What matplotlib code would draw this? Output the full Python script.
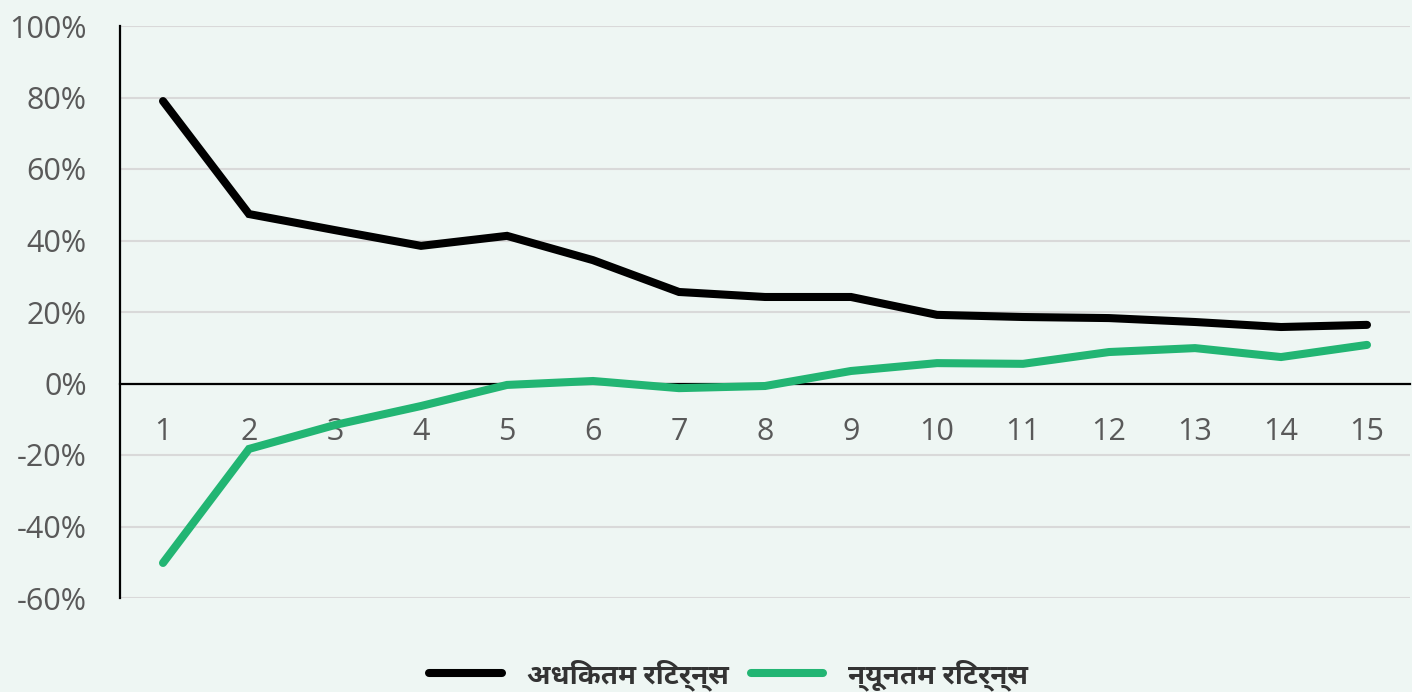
import matplotlib
matplotlib.use('Agg')
import matplotlib.pyplot as plt
from matplotlib.ticker import FuncFormatter

# holding period (years) and max / min returns in percent
years = list(range(1, 16))
max_returns = [79.0, 47.4, 42.9, 38.5, 41.3, 34.5, 25.6, 24.2, 24.2, 19.2, 18.6, 18.3, 17.2, 15.8, 16.4]
min_returns = [-50.2, -18.3, -11.6, -6.3, -0.4, 0.7, -1.3, -0.7, 3.5, 5.7, 5.5, 8.8, 9.9, 7.4, 10.8]
labels = ['अधिकतम रिटर्न्स', 'न्यूनतम रिटर्न्स']
yticks = [-60, -40, -20, 0, 20, 40, 60, 80, 100]

bg = '#eef6f3'
green = '#22b573'
grey = '#595959'

plt.rcParams['font.family'] = ['Open Sans', 'DejaVu Sans']

fig = plt.figure(figsize=(14.12, 6.92), dpi=100, facecolor=bg)
ax = fig.add_axes([120/1412, 1-598/692, 1290/1412, 572/692])
ax.set_facecolor(bg)

ax.plot(years, max_returns, color='black', lw=5.8, solid_capstyle='round',
        solid_joinstyle='miter', label=labels[0], zorder=3)
ax.plot(years, min_returns, color=green, lw=5.8, solid_capstyle='round',
        solid_joinstyle='miter', label=labels[1], zorder=3)

ax.set_xlim(0.5, 15.5)
ax.set_ylim(-60, 100)
ax.set_yticks(yticks)
ax.yaxis.set_major_formatter(FuncFormatter(lambda v, _: f'{v:.0f}%'))
ax.set_xticks(years)
ax.grid(axis='y', color='#d9d9d9', lw=1.5, zorder=0)

for s in ['top', 'right']:
    ax.spines[s].set_visible(False)
ax.spines['bottom'].set_position(('data', 0))
ax.spines['bottom'].set_linewidth(1.6)
ax.spines['bottom'].set_zorder(2)
ax.spines['left'].set_linewidth(1.6)

ax.tick_params(axis='both', length=0, labelsize=22, labelcolor=grey)
ax.tick_params(axis='y', pad=24)
ax.tick_params(axis='x', pad=24)

leg = fig.legend(loc='center', bbox_to_anchor=(0.516, 1 - 675/692), ncol=2,
                 frameon=False, handlelength=2.6, columnspacing=0.8, handletextpad=0.9,
                 prop={'family': ['Noto Sans Devanagari UI', 'Noto Sans Devanagari', 'Mukta', 'DejaVu Sans'],
                       'size': 20, 'weight': 'bold'})
for t in leg.get_texts():
    t.set_color('#333333')

fig.savefig('out.png', dpi=100, facecolor=bg)
